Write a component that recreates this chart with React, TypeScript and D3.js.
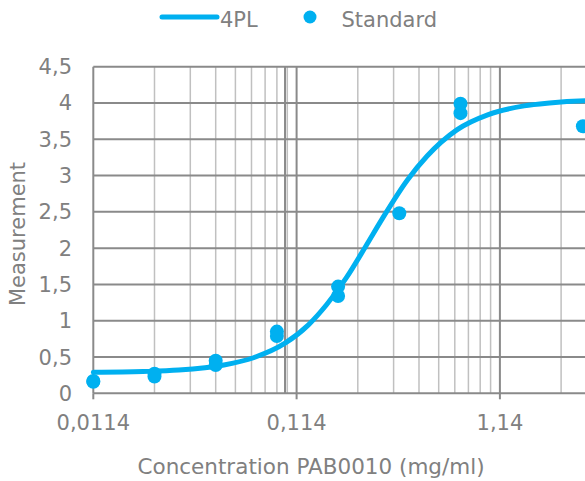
import React from 'react';
import * as d3 from 'd3';

// standard points (concentration in mg/ml, measured signal)
const standardConc = [0.0114, 0.0114, 0.0228, 0.0228, 0.0456, 0.0456, 0.0912, 0.0912, 0.1824, 0.1824, 0.3648, 0.7296, 0.7296, 2.9184];
const standardMeas = [0.16, 0.17, 0.23, 0.27, 0.45, 0.39, 0.85, 0.79, 1.47, 1.34, 2.48, 3.99, 3.86, 3.68];

// fitted 4PL curve
const curveConc = [0.0114, 0.02, 0.03, 0.05, 0.07, 0.1, 0.13, 0.16, 0.2, 0.25, 0.3, 0.4, 0.5, 0.7, 1, 1.5, 2, 3, 5];
const curveMeas = [0.29, 0.3, 0.32, 0.39, 0.49, 0.69, 0.94, 1.22, 1.59, 2.03, 2.4, 2.94, 3.27, 3.63, 3.84, 3.96, 4.0, 4.03, 4.04];

const xTicks = [0.0114, 0.114, 1.14];
const xTickLabels = ['0,0114', '0,114', '1,14'];
const yTicks = [0, 0.5, 1, 1.5, 2, 2.5, 3, 3.5, 4, 4.5];
const yTickLabels = ['0', '0,5', '1', '1,5', '2', '2,5', '3', '3,5', '4', '4,5'];

const BLUE = '#00B0F0';
const TEXT = '#808080';
const MAJOR = '#8a8a8a';
const MINOR = '#c0c0c0';
const FONT = '"DejaVu Sans", Verdana, sans-serif';

export default function App(): JSX.Element {
  const W = 585;
  const H = 481;
  const left = 93.3;
  const decade = 203.3;
  const top = 66.7;
  const bottom = 393.3;

  const x = d3.scaleLog().domain([0.0114, 11.4]).range([left, left + 3 * decade]);
  const y = d3.scaleLinear().domain([0, 4.5]).range([bottom, top]);

  // log gridlines: 2..9 times each decade start, plus the decade lines
  const minor: number[] = [];
  const major: number[] = [0.1];
  for (let n = 0; n < 3; n++) {
    const base = 0.0114 * Math.pow(10, n);
    major.push(base);
    for (let k = 2; k <= 9; k++) minor.push(base * k);
  }
  major.push(11.4);

  const line = d3
    .line<number>()
    .x((_, i) => x(curveConc[i]))
    .y((d) => y(d))
    .curve(d3.curveMonotoneX);

  return (
    <div style={{ position: 'fixed', left: 0, top: 0, width: W, height: H, overflow: 'hidden', background: 'white' }}>
      <svg width={W} height={H} style={{ display: 'block' }} fontFamily={FONT}>
        {/* legend */}
        <line x1={162} x2={217} y1={17} y2={17} stroke={BLUE} strokeWidth={5} strokeLinecap="round" />
        <text x={220} y={26.5} fontSize={21} fill={TEXT}>4PL</text>
        <circle cx={310} cy={17} r={6.5} fill={BLUE} />
        <text x={341.5} y={26.5} fontSize={21} fill={TEXT}>Standard</text>

        {/* vertical gridlines */}
        {minor.map((v, i) => (
          <line key={'mi' + i} x1={x(v)} x2={x(v)} y1={top} y2={bottom} stroke={MINOR} strokeWidth={1.5} />
        ))}
        {major.map((v, i) => (
          <line key={'ma' + i} x1={x(v)} x2={x(v)} y1={top} y2={bottom} stroke={MAJOR} strokeWidth={2} />
        ))}
        {/* horizontal gridlines */}
        {yTicks.map((v, i) => (
          <line key={'h' + i} x1={left} x2={W} y1={y(v)} y2={y(v)} stroke={MAJOR} strokeWidth={2} />
        ))}

        {/* x tick marks and labels */}
        {xTicks.map((v, i) => (
          <g key={'xt' + i}>
            <line x1={x(v)} x2={x(v)} y1={bottom} y2={bottom + 6} stroke={MAJOR} strokeWidth={2} />
            <text x={x(v)} y={430} fontSize={21} fill={TEXT} textAnchor="middle">{xTickLabels[i]}</text>
          </g>
        ))}
        {yTicks.map((v, i) => (
          <text key={'yt' + i} x={72} y={y(v) + 7.5} fontSize={21} fill={TEXT} textAnchor="end">{yTickLabels[i]}</text>
        ))}

        {/* axis titles */}
        <text x={311} y={474} fontSize={21.5} fill={TEXT} textAnchor="middle">Concentration PAB0010 (mg/ml)</text>
        <text transform={`translate(25, 234) rotate(-90)`} fontSize={21} fill={TEXT} textAnchor="middle">Measurement</text>

        {/* 4PL curve */}
        <path d={line(curveMeas) || ''} fill="none" stroke={BLUE} strokeWidth={5} strokeLinecap="round" />

        {/* standards */}
        {standardConc.map((c, i) => (
          <circle key={'p' + i} cx={x(c)} cy={y(standardMeas[i])} r={7} fill={BLUE} />
        ))}
      </svg>
    </div>
  );
}
